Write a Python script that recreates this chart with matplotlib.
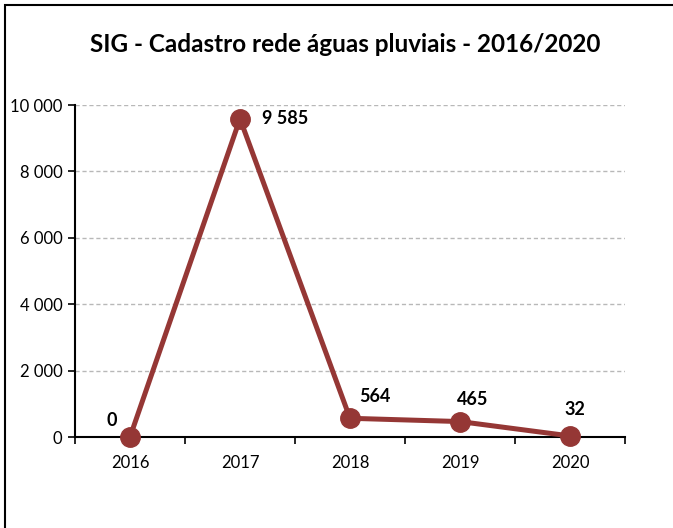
import matplotlib
matplotlib.use("Agg")
import matplotlib.pyplot as plt
from matplotlib.ticker import FuncFormatter, FixedLocator
from matplotlib.patches import Rectangle

years = ["2016", "2017", "2018", "2019", "2020"]
values = [0, 9585, 564, 465, 32]
label_offsets = [(-13, 12), (16, 0), (18, 16), (9, 16), (3.6, 19)]
label_align = ["center", "left", "center", "center", "center"]

plt.rcParams["font.family"] = ["Lato", "DejaVu Sans"]

fig = plt.figure(figsize=(6.73, 5.28), dpi=100)
fig.patch.set_facecolor("white")

# outer frame (left and top edges visible)
fig.add_artist(Rectangle((5 / 673, -0.1), 1.2, 1 - 5 / 528 + 0.1,
                         transform=fig.transFigure, fill=False,
                         edgecolor="black", linewidth=1.5))

ax = fig.add_axes([75 / 673, 1 - 437 / 528, 550 / 673, 332 / 528])
x = list(range(len(years)))
color = "#953735"
ax.plot(x, values, color=color, linewidth=3.6, marker="o", markersize=14,
        markerfacecolor=color, markeredgecolor=color, zorder=3, clip_on=False)

ax.set_xlim(-0.5, len(years) - 0.5)
ax.set_ylim(0, 10000)
ax.set_yticks(range(0, 10001, 2000))
ax.yaxis.set_major_formatter(FuncFormatter(lambda v, p: f"{int(v):,}".replace(",", " ")))
ax.set_xticks(x)
ax.set_xticklabels(years)
ax.xaxis.set_minor_locator(FixedLocator([i - 0.5 for i in range(len(years) + 1)]))
ax.tick_params(axis="x", which="major", length=0, pad=13, labelsize=12)
ax.tick_params(axis="x", which="minor", length=5, width=1.2, direction="out")
ax.tick_params(axis="y", length=5, width=1.2, labelsize=12, pad=4)

for s in ["top", "right"]:
    ax.spines[s].set_visible(False)
for s in ["left", "bottom"]:
    ax.spines[s].set_linewidth(1.5)

ax.grid(axis="y", color="#b8b8b8", linestyle=(0, (3, 2)), linewidth=1)
ax.set_axisbelow(True)

for i, v in enumerate(values):
    dx, dy = label_offsets[i]
    ax.annotate(f"{v:,}".replace(",", " "), (i, v), xytext=(dx, dy),
                textcoords="offset points", ha=label_align[i], va="center",
                fontsize=13, fontweight="bold")

fig.text(345 / 673, 1 - 45 / 528, "SIG - Cadastro rede águas pluviais - 2016/2020",
         ha="center", va="center", fontsize=17.5, fontweight="bold")

fig.savefig("out.png", dpi=100)
